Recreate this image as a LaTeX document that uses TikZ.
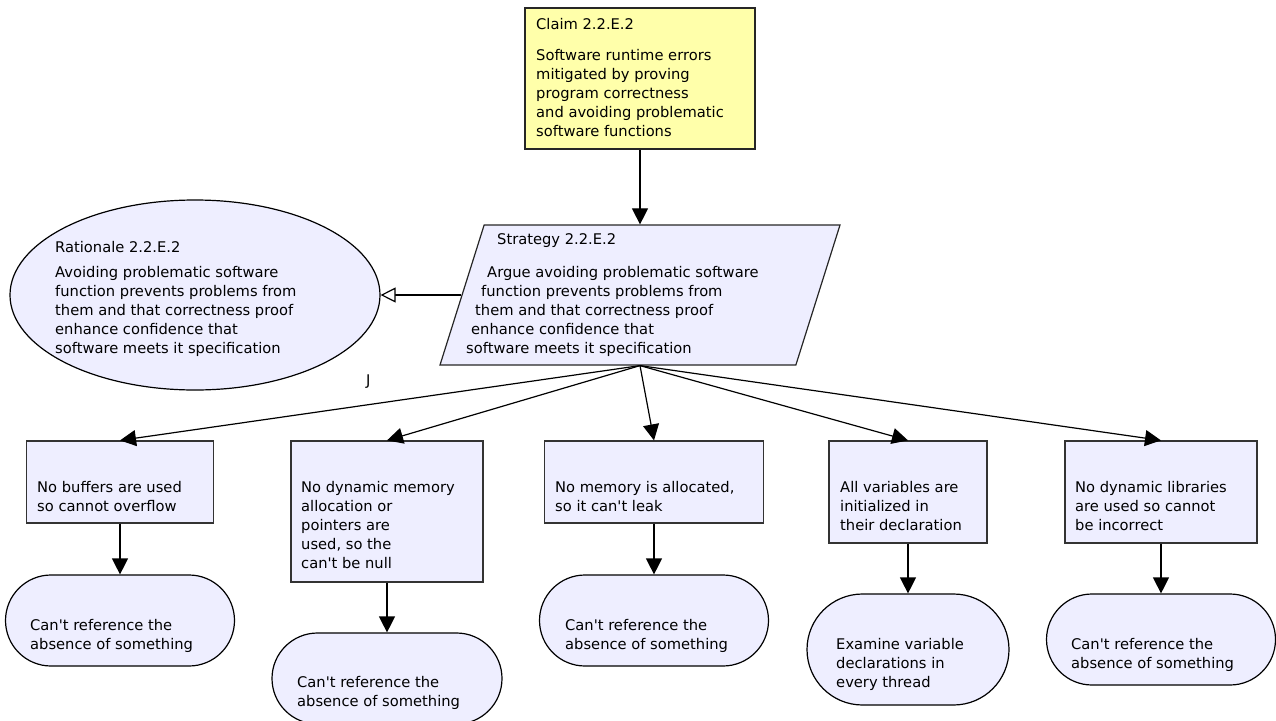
\documentclass[tikz,border=0pt]{standalone}
\usepackage{fontspec}
\setmainfont{DejaVu Sans}[Ligatures=TeXOff]
\usetikzlibrary{arrows.meta}
\usetikzlibrary{shapes.geometric, shapes.misc}

\definecolor{claimyellow}{HTML}{FFFFAA}
\definecolor{gsnblue}{HTML}{EEEEFF}

\newcommand{\gsnfont}{\fontsize{14.7}{19}\selectfont}

\tikzstyle{claim} = [rectangle, minimum width=230, minimum height=141, inner sep=0pt, draw=black!85, line width=1.2pt, fill=claimyellow]
\tikzstyle{strategy} = [trapezium, trapezium left angle=72.5, trapezium right angle=107.5, trapezium stretches body=true, minimum width=400, inner xsep=0pt, inner ysep=70pt, draw=black!85, line width=1.2pt, fill=gsnblue]
\tikzstyle{rationale} = [ellipse, minimum width=370, minimum height=190, inner sep=0pt, draw=black, line width=1.2pt, fill=gsnblue]
\tikzstyle{subgoal} = [rectangle, inner sep=0pt, draw=black!80, line width=1.2pt, fill=gsnblue]
\tikzstyle{capsule} = [rounded rectangle, inner sep=0pt, draw=black, line width=1.2pt, fill=gsnblue]
\tikzstyle{txt} = [font=\gsnfont, align=left, anchor=north west, inner sep=0pt]
\tikzstyle{arrow} = [line width=1.2pt, -{Triangle[length=16pt, width=16pt]}]
\tikzstyle{openarrow} = [line width=1.2pt, -{Triangle[open, length=15pt, width=15pt, fill=white]}]

\begin{document}
\begin{tikzpicture}[x=1pt, y=-1pt]
\useasboundingbox (0,0) rectangle (1276,720);

% top of the argument
\node (claim) [claim] at (640,78.5) {};
\node (strat) [strategy] at (640,295) {};
\node (rat) [rationale] at (195,295) {};

\node (claimtxt) [txt] at (536,16) {\strut Claim 2.2.E.2\\[12pt]Software runtime errors\\mitigated by proving\\program correctness\\and avoiding problematic\\software functions};
\node (strattxt) [txt] at (466,231) {\strut\hspace*{31pt}Strategy 2.2.E.2\\[14pt]\hspace*{21pt}Argue avoiding problematic software\\\hspace*{15pt}function prevents problems from\\\hspace*{9pt}them and that correctness proof\\\hspace*{5pt}enhance confidence that\\software meets it specification};
\node (rattxt) [txt] at (55,239) {\strut Rationale 2.2.E.2\\[6pt]Avoiding problematic software\\function prevents problems from\\them and that correctness proof\\enhance confidence that\\software meets it specification};
\node (jmark) [txt] at (366,372) {\strut J};

% sub-claims
\node (b1) [subgoal, minimum width=187, minimum height=82] at (120,482) {};
\node (b2) [subgoal, minimum width=192, minimum height=141] at (387,511.5) {};
\node (b3) [subgoal, minimum width=219, minimum height=82] at (654,482) {};
\node (b4) [subgoal, minimum width=158, minimum height=102] at (908,492) {};
\node (b5) [subgoal, minimum width=192, minimum height=102] at (1161,492) {};

\node (b1txt) [txt] at (37,479) {\strut No buffers are used\\so cannot overflow};
\node (b2txt) [txt] at (301,479) {\strut No dynamic memory\\allocation or\\pointers are\\used, so the\\can't be null};
\node (b3txt) [txt] at (555,479) {\strut No memory is allocated,\\so it can't leak};
\node (b4txt) [txt] at (840,479) {\strut All variables are\\initialized in\\their declaration};
\node (b5txt) [txt] at (1075,479) {\strut No dynamic libraries\\are used so cannot\\be incorrect};

% rounded boxes underneath
\node (s1) [capsule, minimum width=229, minimum height=91] at (120,620.5) {};
\node (s2) [capsule, minimum width=230, minimum height=91] at (387,678.5) {};
\node (s3) [capsule, minimum width=229, minimum height=91] at (654,620.5) {};
\node (s4) [capsule, minimum width=202, minimum height=111] at (908,649.5) {};
\node (s5) [capsule, minimum width=229, minimum height=91] at (1161,639.5) {};

\node (s1txt) [txt] at (30,617) {\strut Can't reference the\\absence of something};
\node (s2txt) [txt] at (297,674) {\strut Can't reference the\\absence of something};
\node (s3txt) [txt] at (565,617) {\strut Can't reference the\\absence of something};
\node (s4txt) [txt] at (836,636) {\strut Examine variable\\declarations in\\every thread};
\node (s5txt) [txt] at (1071,636) {\strut Can't reference the\\absence of something};

\draw [arrow] (claim) -- (strat);
\draw [openarrow] (strat) -- (rat);

\draw [arrow] (strat.south) -- (b1.north);
\draw [arrow] (strat.south) -- (b2.north);
\draw [arrow] (strat.south) -- (b3.north);
\draw [arrow] (strat.south) -- (b4.north);
\draw [arrow] (strat.south) -- (b5.north);

\draw [arrow] (b1.south) -- (s1.north);
\draw [arrow] (b2.south) -- (s2.north);
\draw [arrow] (b3.south) -- (s3.north);
\draw [arrow] (b4.south) -- (s4.north);
\draw [arrow] (b5.south) -- (s5.north);

\end{tikzpicture}
\end{document}
